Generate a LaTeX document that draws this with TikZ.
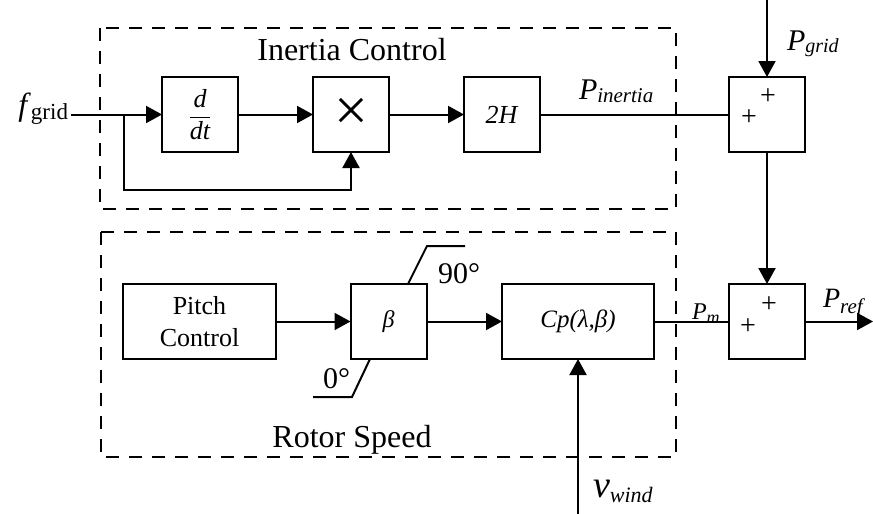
\documentclass[tikz,border=0pt]{standalone}
\usepackage{fontspec}
\setmainfont{Liberation Serif}
\usetikzlibrary{arrows.meta}
\newcommand{\fz}[1]{\fontsize{#1}{#1}\selectfont}
\begin{document}
\begin{tikzpicture}[x=0.5pt,y=-0.5pt,
  every node/.style={inner sep=0pt, outer sep=0pt},
  blk/.style={draw, line width=1pt, minimum width=38pt, minimum height=37.5pt, align=center},
  grp/.style={draw, line width=1pt, dash pattern=on 6.5pt off 5pt},
  sig/.style={line width=1pt, -{Triangle[length=8pt,width=8.5pt]}},
  wire/.style={line width=1pt},
]
\useasboundingbox (0,0) rectangle (873,514);

% group frames
\draw[grp] (100,28) rectangle (676,209);
\draw[grp] (101,232) rectangle (676,457);
\node[font=\fz{16}, anchor=base] (lblIC) at (352,61) {Inertia Control};
\node[font=\fz{16}, anchor=base] (lblRS) at (352,447) {Rotor Speed};

% blocks
\node[blk, font=\fz{13}] (ddt) at (200,114.5) {$\displaystyle\frac{\textit{d}}{\textit{dt}}$};
\node[blk, font=\fz{30}] (mult) at (351,114.5) {×};
\node[blk, font=\fz{13}] (twoH) at (502,114.5) {\textit{2H}};
\node[blk] (sum1) at (767,114.5) {};
\node[blk, minimum width=76.5pt, font=\fontsize{13}{16}\selectfont] (pitch) at (199.5,321.5) {Pitch\\Control};
\node[blk, font=\fz{12}] (beta) at (388.5,321.5) {\textit{β}};
\node[blk, minimum width=76pt, font=\fz{12.5}] (cp) at (578,321.5) {\textit{Cp(λ,β)}};
\node[blk] (sum2) at (767,321.5) {};

% plus signs
\node[font=\fz{14}] (p1a) at (768,97) {+};
\node[font=\fz{14}] (p1b) at (749,118) {+};
\node[font=\fz{14}] (p2a) at (769,305) {+};
\node[font=\fz{14}] (p2b) at (748,327) {+};

% connectors
\coordinate (fin) at (71,114.5);
\coordinate (jn) at (124,114.5);
\coordinate (fb) at (124,190);
\draw[wire] (fin) -- (jn);
\draw[sig] (jn) -- (ddt.west);
\draw[sig] (jn) -- (fb) -| (mult.south);
\draw[sig] (ddt) -- (mult);
\draw[sig] (mult) -- (twoH);
\draw[wire] (twoH) -- (sum1);
\coordinate (pgin) at (767,0);
\draw[sig] (pgin) -- (sum1.north);
\draw[sig] (sum1) -- (sum2);
\draw[sig] (pitch) -- (beta);
\draw[sig] (beta) -- (cp);
\draw[wire] (cp) -- (sum2);
\coordinate (pout) at (873,321.5);
\draw[sig] (sum2) -- (pout);
\coordinate (vin) at (578,514);
\draw[sig] (vin) -- (cp.south);

% saturation limits
\coordinate (satTa) at (408,284);
\coordinate (satTb) at (427,246);
\coordinate (satTc) at (465,246);
\draw[wire] (satTa) -- (satTb) -- (satTc);
\coordinate (satBa) at (370,359);
\coordinate (satBb) at (352,397);
\coordinate (satBc) at (313,397);
\draw[wire] (satBa) -- (satBb) -- (satBc);
\node[font=\fz{15}, anchor=base west] (l90) at (438,283) {90°};
\node[font=\fz{15}, anchor=base west] (l0) at (323,388) {0°};

% signal labels
\node[anchor=base east] (lf) at (68,115) {\fz{16}\textit{f}\raisebox{-2pt}{\fz{11.5}grid}};
\node[anchor=base west] (lPin) at (579,99) {\fz{15}\textit{P}\raisebox{-1.5pt}{\fz{10.5}\textit{inertia}}};
\node[anchor=base west] (lPg) at (787,50) {\fz{15}\textit{P}\raisebox{-1.5pt}{\fz{10}\textit{grid}}};
\node[anchor=base west] (lPr) at (823,307) {\fz{14}\textit{P}\raisebox{-3pt}{\fz{10.5}\textit{ref}}};
\node[anchor=base west] (lPm) at (692,319) {\fz{12}\textit{P}\raisebox{-2pt}{\fz{9}\textit{m}}};
\node[anchor=base west] (lv) at (593,497) {\fz{19}\textit{v}\raisebox{-2.5pt}{\fz{11}\textit{wind}}};
\end{tikzpicture}
\end{document}
